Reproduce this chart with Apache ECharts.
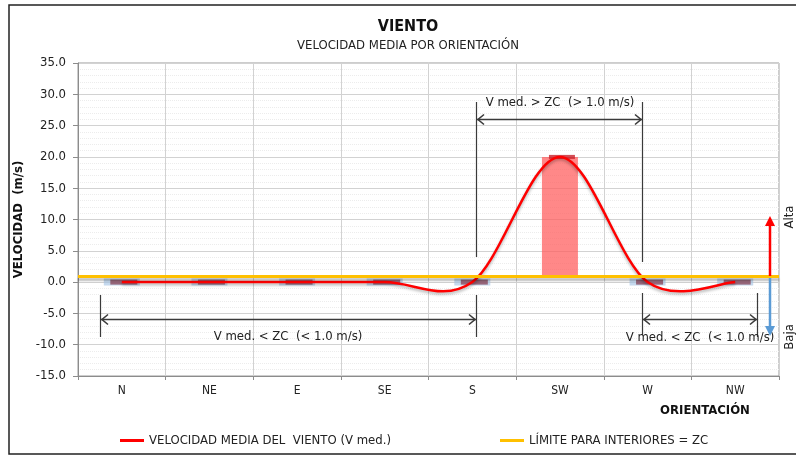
<!DOCTYPE html>
<html>
<head>
<meta charset="utf-8">
<script src="https://cdn.jsdelivr.net/npm/echarts@6/dist/echarts.min.js"></script>
<style>
html, body { margin: 0; padding: 0; background: #fff; }
#chart { width: 796px; height: 456px; }
</style>
</head>
<body>
<div id="chart"></div>
<script>
// datos
var orientaciones = ['N', 'NE', 'E', 'SE', 'S', 'SW', 'W', 'NW'];
var velocidadMedia = [0, 0, 0, 0, 0, 20, 0, 0];
var limiteZC = 1.0;
var ejeMin = -15, ejeMax = 35, ejePaso = 5;

var nombreVel = 'VELOCIDAD MEDIA DEL  VIENTO (V med.)';
var nombreZC = 'LÍMITE PARA INTERIORES = ZC';

var fuente = "'Liberation Sans Narrow', 'DejaVu Sans Condensed', 'Roboto', sans-serif";

// barra de exceso: desde ZC hasta V med. (solo donde V med. > ZC)
var barraBase = velocidadMedia.map(function (v) { return v > limiteZC ? limiteZC : '-'; });
var barraExceso = velocidadMedia.map(function (v) { return v > limiteZC ? v - limiteZC : '-'; });

// marcadores de cada punto (el de SW en rojo oscuro)
var marcadoresFondo = velocidadMedia.map(function (v) { return v > limiteZC ? '-' : v; });
var marcadores = velocidadMedia.map(function (v) {
    if (v > limiteZC) {
        return { value: v, symbolSize: [26, 4], itemStyle: { color: '#c8202a' } };
    }
    return v;
});

var gris = '#3a3a3a';

// cota con flechas en los dos extremos
function cota(x1, x2, y) {
    var st = function () { return { stroke: gris, lineWidth: 1.6, fill: 'none' }; };
    return [
        { type: 'line', z: 30, shape: { x1: x1, y1: y, x2: x2, y2: y }, style: st() },
        { type: 'polyline', z: 30, shape: { points: [[x1 + 7, y - 5], [x1 + 1, y], [x1 + 7, y + 5]] }, style: st() },
        { type: 'polyline', z: 30, shape: { points: [[x2 - 7, y - 5], [x2 - 1, y], [x2 - 7, y + 5]] }, style: st() }
    ];
}
function vertical(x, y1, y2) {
    return { type: 'line', z: 30, shape: { x1: x, y1: y1, x2: x, y2: y2 }, style: { stroke: gris, lineWidth: 1.2 } };
}
function texto(t, x, y, extra) {
    var el = {
        type: 'text', x: x, y: y, z: 30,
        style: { text: t, font: '13px ' + fuente, fill: '#222', align: 'center', verticalAlign: 'middle' }
    };
    for (var k in extra) el[k] = extra[k];
    return el;
}
function flecha(x, y1, y2, color) {
    var dir = y2 < y1 ? 1 : -1;
    return [
        { type: 'line', z: 30, shape: { x1: x, y1: y1, x2: x, y2: y2 + dir * 6 }, style: { stroke: color, lineWidth: 2.5 } },
        { type: 'polygon', z: 30, shape: { points: [[x, y2], [x - 5, y2 + dir * 10], [x + 5, y2 + dir * 10]] }, style: { fill: color } }
    ];
}

var graficos = [
    { type: 'rect', shape: { x: 9, y: 5, width: 800, height: 449 }, style: { fill: 'none', stroke: '#222', lineWidth: 1.5 } },
    { type: 'text', x: 408, y: 27, style: { text: 'VIENTO', font: 'bold 16px ' + fuente, fill: '#111', align: 'center', verticalAlign: 'middle' } },
    { type: 'text', x: 408, y: 46, style: { text: 'VELOCIDAD MEDIA POR ORIENTACIÓN', font: '13px ' + fuente, fill: '#222', align: 'center', verticalAlign: 'middle' } },
    { type: 'text', x: 705, y: 411, style: { text: 'ORIENTACIÓN', font: 'bold 13px ' + fuente, fill: '#111', align: 'center', verticalAlign: 'middle' } },
    vertical(476.5, 102, 257), vertical(642.5, 102, 262),
    vertical(100.5, 295, 337), vertical(476.5, 295, 337),
    vertical(642.5, 293, 335), vertical(757.5, 293, 337),
    texto('V med. > ZC  (> 1.0 m/s)', 560, 103),
    texto('V med. < ZC  (< 1.0 m/s)', 288, 337),
    texto('V med. < ZC  (< 1.0 m/s)', 700, 338),
    texto('Alta', 790, 217, { rotation: Math.PI / 2 }),
    texto('Baja', 790, 337, { rotation: Math.PI / 2 })
]
.concat(cota(477, 642, 119.5))
.concat(cota(101, 476, 319.5))
.concat(cota(643, 757, 319.5))
.concat(flecha(770, 276, 216, '#ff0000'))
.concat(flecha(770, 278, 336, '#5b9bd5'));

// curva suavizada tipo hoja de cálculo (Catmull-Rom, tensión 1/6) sobre las coordenadas del eje
function curvaSuave(params, api) {
    if (params.dataIndex !== 0) return null;
    var p = velocidadMedia.map(function (v, i) { return api.coord([i, v]); });
    var n = p.length;
    var d = 'M' + p[0][0] + ' ' + p[0][1];
    for (var i = 0; i < n - 1; i++) {
        var p0 = p[Math.max(i - 1, 0)], p1 = p[i], p2 = p[i + 1], p3 = p[Math.min(i + 2, n - 1)];
        var c1x = p1[0] + (p2[0] - p0[0]) / 6, c1y = p1[1] + (p2[1] - p0[1]) / 6;
        var c2x = p2[0] - (p3[0] - p1[0]) / 6, c2y = p2[1] - (p3[1] - p1[1]) / 6;
        d += ' C' + c1x + ' ' + c1y + ' ' + c2x + ' ' + c2y + ' ' + p2[0] + ' ' + p2[1];
    }
    return {
        type: 'path',
        shape: { pathData: d },
        style: {
            fill: 'none', stroke: '#ff0000', lineWidth: 2.5,
            shadowColor: 'rgba(0,0,0,0.3)', shadowBlur: 3, shadowOffsetY: 2
        }
    };
}

var chart = echarts.init(document.getElementById('chart'));

var option = {
    backgroundColor: '#ffffff',
    animation: false,
    textStyle: { fontFamily: fuente },
    grid: {
        left: 78, right: 17, top: 63, bottom: 80,
        show: true, borderColor: '#9a9a9a', borderWidth: 1
    },
    legend: [
        {
            data: [nombreVel], left: 115, top: 429,
            icon: 'rect', itemWidth: 24, itemHeight: 3, itemGap: 4,
            textStyle: { fontSize: 13, color: '#222', fontFamily: fuente }
        },
        {
            data: [nombreZC], left: 495, top: 429,
            icon: 'rect', itemWidth: 24, itemHeight: 3, itemGap: 4,
            textStyle: { fontSize: 13, color: '#222', fontFamily: fuente }
        }
    ],
    xAxis: {
        type: 'category',
        data: orientaciones,
        boundaryGap: true,
        axisLine: { onZero: false, lineStyle: { color: '#8c8c8c' } },
        axisTick: { show: true, length: 4, lineStyle: { color: '#8c8c8c' } },
        axisLabel: { fontSize: 12, color: '#222', margin: 9 },
        splitLine: { show: true, lineStyle: { color: '#d2d2d2' } }
    },
    yAxis: {
        type: 'value',
        min: ejeMin, max: ejeMax, interval: ejePaso,
        name: 'VELOCIDAD  (m/s)',
        nameLocation: 'middle',
        nameGap: 47,
        nameTextStyle: { fontSize: 13, fontWeight: 'bold', color: '#111' },
        axisLine: { show: true, lineStyle: { color: '#8c8c8c' } },
        axisTick: { show: true, length: 5, lineStyle: { color: '#8c8c8c' } },
        axisLabel: {
            fontSize: 13, color: '#222', margin: 12,
            formatter: function (v) { return v.toFixed(1); }
        },
        splitLine: { lineStyle: { color: '#d2d2d2' } },
        minorTick: { show: false, splitNumber: 5 },
        minorSplitLine: { show: true, lineStyle: { color: '#ececec', type: 'dotted' } }
    },
    series: [
        {
            type: 'bar', stack: 'exceso', silent: true,
            data: barraBase, barWidth: 36,
            itemStyle: { color: 'rgba(0,0,0,0)' }
        },
        {
            type: 'bar', stack: 'exceso', silent: true,
            data: barraExceso, barWidth: 36,
            itemStyle: { color: 'rgba(255,90,90,0.72)' }
        },
        {
            type: 'scatter', silent: true, z: 3,
            data: marcadoresFondo,
            symbol: 'rect', symbolSize: [36, 7],
            itemStyle: { color: 'rgba(165,195,228,0.8)', borderWidth: 0 }
        },
        {
            type: 'scatter', silent: true, z: 3,
            data: marcadores,
            symbol: 'rect', symbolSize: [27, 5], symbolOffset: [2, 0],
            itemStyle: { color: '#8b4a5c', borderWidth: 0 }
        },
        {
            name: nombreVel,
            type: 'custom', z: 4, silent: true,
            data: velocidadMedia.map(function (v, i) { return [i, v]; }),
            encode: { x: 0, y: 1 },
            renderItem: curvaSuave,
            itemStyle: { color: '#ff0000' }
        },
        {
            name: nombreZC,
            type: 'line', z: 5,
            data: [],
            itemStyle: { color: '#ffc000' },
            lineStyle: { color: '#ffc000' },
            markLine: {
                silent: true, symbol: 'none',
                label: { show: false },
                lineStyle: {
                    color: '#ffc000', width: 3, type: 'solid',
                    shadowColor: 'rgba(0,0,0,0.25)', shadowBlur: 2, shadowOffsetY: 3
                },
                data: [{ yAxis: limiteZC }]
            }
        }
    ],
    graphic: graficos
};

chart.setOption(option);
</script>
</body>
</html>
